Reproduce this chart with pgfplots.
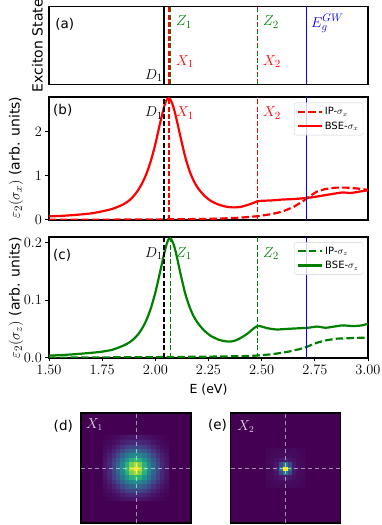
\documentclass[border=0pt]{standalone}
\usepackage{pgfplots}
\pgfplotsset{compat=1.18}
\usepackage{fontspec}
\setmainfont{DejaVu Sans}

\definecolor{mred}{HTML}{FF0000}
\definecolor{mgreen}{HTML}{008000}
\definecolor{mblue}{HTML}{0000FF}
\definecolor{vir0}{HTML}{440154}

\tikzset{
  lab/.style={inner sep=0pt, font=\fontsize{15}{17}\selectfont},
  plab/.style={inner sep=0pt, anchor=west, font=\fontsize{13.5}{16}\selectfont},
  cross/.style={white, opacity=0.55, line width=1pt, dash pattern=on 4pt off 3pt},
  vline/.style={line width=1.6pt},
  vdash/.style={line width=1.6pt, dash pattern=on 5pt off 2.2pt},
  curve/.style={line width=2.2pt, smooth, tension=0.45},
  ipcurve/.style={line width=2.2pt, dash pattern=on 7.5pt off 3.2pt},
}

\pgfplotsset{
  every tick label/.append style={font=\fontsize{15}{17}\selectfont},
  panel/.style={
    scale only axis, width=319pt,
    xmin=1.5, xmax=3.0,
    axis line style={line width=1.8pt},
    tick style={black, line width=0.9pt},
    tick align=outside, major tick length=3.5pt,
    tick pos=left,
  },
  leg/.style={
    legend style={at={(0.985,0.955)}, anchor=north east,
      draw=black!18, rounded corners=2pt, fill=white, fill opacity=0.8,
      text opacity=1, inner sep=2.5pt, row sep=1.5pt,
      font=\fontsize{10}{12}\selectfont},
    legend cell align=left,
    legend image code/.code={\draw[##1] (0pt,0pt) -- (24pt,0pt);},
  },
  heat/.style={
    scale only axis, width=110pt, height=110pt,
    xmin=-12.5, xmax=12.5, ymin=-12.5, ymax=12.5,
    xtick=\empty, ytick=\empty,
    axis line style={line width=1.3pt},
    axis background/.style={fill=vir0},
    colormap/viridis, point meta min=0, point meta max=1,
  },
}

\begin{document}
\begin{tikzpicture}
\useasboundingbox (0pt,0pt) rectangle (382pt,525pt);

% (a) exciton states
\begin{axis}[panel, at={(49pt,440.5pt)}, anchor=south west, height=78pt,
  ymin=0, ymax=1, xtick=\empty, ytick=\empty]
\addplot[vline, black, forget plot] coordinates {(2.04,0) (2.04,1)};
\addplot[vdash, mred, forget plot] coordinates {(2.063,0) (2.063,1)};
\addplot[vdash, mgreen, forget plot] coordinates {(2.072,0) (2.072,1)};
\addplot[vdash, mred, forget plot] coordinates {(2.481,0) (2.481,1)};
\addplot[vline, mgreen, dash pattern=on 3pt off 4.2pt, forget plot] coordinates {(2.481,0) (2.481,1)};
\addplot[vline, mblue, forget plot] coordinates {(2.71,0) (2.71,1)};
\node[plab] at (rel axis cs:0.019,0.776) {(a)};
\node[lab, anchor=east] at (axis cs:2.036,0.11) {$D_1$};
\node[lab, anchor=west, text=mgreen] at (axis cs:2.097,0.80) {$Z_1$};
\node[lab, anchor=west, text=mred] at (axis cs:2.097,0.29) {$X_1$};
\node[lab, anchor=west, text=mgreen] at (axis cs:2.506,0.80) {$Z_2$};
\node[lab, anchor=west, text=mred] at (axis cs:2.506,0.29) {$X_2$};
\node[lab, anchor=west, text=mblue] at (axis cs:2.732,0.78) {$E_g^{GW}$};
\end{axis}

% (b) sigma_x
\begin{axis}[panel, leg, at={(49pt,305.3pt)}, anchor=south west, height=122.5pt,
  ymin=0, ymax=2.79, xtick=\empty, ytick={0,1,2}]
\addplot[ipcurve, mred] coordinates {
  (1.50,0.000) (1.80,0.002) (2.00,0.005) (2.20,0.015) (2.30,0.025)
  (2.40,0.045) (2.48,0.080) (2.55,0.130) (2.60,0.190) (2.65,0.290)
  (2.70,0.440) (2.73,0.550) (2.76,0.640) (2.80,0.700) (2.85,0.730)
  (2.90,0.730) (2.95,0.710) (3.00,0.680)
};
\addlegendentry{IP-$\sigma_x$}
\addplot[curve, mred] coordinates {
  (1.50,0.075) (1.55,0.085) (1.60,0.100) (1.65,0.120) (1.70,0.145)
  (1.75,0.190) (1.80,0.250) (1.85,0.350) (1.88,0.450) (1.90,0.550)
  (1.92,0.680) (1.94,0.850) (1.96,1.070) (1.98,1.360) (2.00,1.720)
  (2.02,2.150) (2.04,2.550) (2.05,2.700) (2.06,2.760) (2.07,2.740)
  (2.08,2.640) (2.09,2.480) (2.10,2.280) (2.12,1.850) (2.14,1.440)
  (2.16,1.120) (2.18,0.890) (2.20,0.720) (2.23,0.550) (2.26,0.430)
  (2.30,0.340) (2.34,0.290) (2.37,0.280) (2.40,0.290) (2.43,0.330)
  (2.46,0.380) (2.48,0.420) (2.50,0.430) (2.55,0.440) (2.60,0.460)
  (2.65,0.470) (2.70,0.490) (2.75,0.520) (2.80,0.560) (2.85,0.600)
  (2.88,0.620) (2.92,0.610) (2.96,0.640) (3.00,0.670)
};
\addlegendentry{BSE-$\sigma_x$}
\addplot[vdash, black, forget plot] coordinates {(2.04,0) (2.04,2.79)};
\addplot[vdash, mred, forget plot] coordinates {(2.063,0) (2.063,2.79)};
\addplot[vdash, mred, forget plot] coordinates {(2.481,0) (2.481,2.79)};
\addplot[vline, mblue, forget plot] coordinates {(2.71,0) (2.71,2.79)};
\node[plab] at (rel axis cs:0.0125,0.895) {(b)};
\node[lab, anchor=east] at (axis cs:2.036,2.43) {$D_1$};
\node[lab, anchor=west, text=mred] at (axis cs:2.097,2.43) {$X_1$};
\node[lab, anchor=west, text=mred] at (axis cs:2.506,2.43) {$X_2$};
\end{axis}

% (c) sigma_z
\begin{axis}[panel, leg, at={(49pt,167.3pt)}, anchor=south west, height=121pt,
  ymin=0, ymax=0.21, xtick={1.5,1.75,2,2.25,2.5,2.75,3}, ytick={0,0.1,0.2},
  scaled y ticks=false,
  xticklabel style={/pgf/number format/.cd, fixed, fixed zerofill, precision=2},
  yticklabel style={/pgf/number format/.cd, fixed, fixed zerofill, precision=1}]
\addplot[ipcurve, mgreen] coordinates {
  (1.50,0.000) (2.00,0.001) (2.30,0.002) (2.45,0.003) (2.55,0.006)
  (2.62,0.010) (2.68,0.015) (2.72,0.020) (2.76,0.026) (2.80,0.030)
  (2.85,0.033) (2.92,0.034) (3.00,0.035)
};
\addlegendentry{IP-$\sigma_z$}
\addplot[curve, mgreen] coordinates {
  (1.50,0.0035) (1.60,0.0055) (1.70,0.0085) (1.75,0.0105) (1.80,0.014)
  (1.85,0.021) (1.88,0.027) (1.90,0.033) (1.92,0.041) (1.94,0.052)
  (1.96,0.067) (1.98,0.087) (2.00,0.113) (2.02,0.145) (2.04,0.178)
  (2.05,0.193) (2.06,0.204) (2.07,0.207) (2.08,0.202) (2.09,0.192)
  (2.10,0.177) (2.12,0.143) (2.14,0.112) (2.16,0.089) (2.18,0.072)
  (2.20,0.060) (2.23,0.047) (2.26,0.038) (2.30,0.031) (2.34,0.028)
  (2.37,0.029) (2.40,0.034) (2.43,0.041) (2.46,0.050) (2.48,0.055)
  (2.50,0.054) (2.53,0.051) (2.57,0.049) (2.62,0.050) (2.67,0.051)
  (2.72,0.052) (2.76,0.054) (2.80,0.052) (2.84,0.054) (2.88,0.056)
  (2.93,0.055) (2.97,0.056) (3.00,0.059)
};
\addlegendentry{BSE-$\sigma_z$}
\addplot[vdash, black, forget plot] coordinates {(2.04,0) (2.04,0.21)};
\addplot[vdash, mgreen, forget plot] coordinates {(2.072,0) (2.072,0.21)};
\addplot[vdash, mgreen, forget plot] coordinates {(2.481,0) (2.481,0.21)};
\addplot[vline, mblue, forget plot] coordinates {(2.71,0) (2.71,0.21)};
\node[plab] at (rel axis cs:0.0125,0.85) {(c)};
\node[lab, anchor=east] at (axis cs:2.036,0.181) {$D_1$};
\node[lab, anchor=west, text=mgreen] at (axis cs:2.097,0.181) {$Z_1$};
\node[lab, anchor=west, text=mgreen] at (axis cs:2.506,0.181) {$Z_2$};
\end{axis}

% (d) X1 wavefunction
\begin{axis}[heat, at={(81pt,2pt)}, anchor=south west]
\addplot[matrix plot*, mesh/cols=15, point meta=explicit] table[row sep=\\, meta=c] {
x y c\\
-7 -7 0.005\\ -6 -7 0.010\\ -5 -7 0.018\\ -4 -7 0.028\\ -3 -7 0.040\\ -2 -7 0.050\\ -1 -7 0.058\\ 0 -7 0.060\\ 1 -7 0.058\\ 2 -7 0.050\\ 3 -7 0.040\\ 4 -7 0.028\\ 5 -7 0.018\\ 6 -7 0.010\\ 7 -7 0.005\\
-7 -6 0.010\\ -6 -6 0.020\\ -5 -6 0.035\\ -4 -6 0.052\\ -3 -6 0.080\\ -2 -6 0.100\\ -1 -6 0.115\\ 0 -6 0.120\\ 1 -6 0.115\\ 2 -6 0.100\\ 3 -6 0.080\\ 4 -6 0.052\\ 5 -6 0.035\\ 6 -6 0.020\\ 7 -6 0.010\\
-7 -5 0.018\\ -6 -5 0.035\\ -5 -5 0.058\\ -4 -5 0.095\\ -3 -5 0.140\\ -2 -5 0.180\\ -1 -5 0.210\\ 0 -5 0.220\\ 1 -5 0.210\\ 2 -5 0.180\\ 3 -5 0.140\\ 4 -5 0.095\\ 5 -5 0.058\\ 6 -5 0.035\\ 7 -5 0.018\\
-7 -4 0.028\\ -6 -4 0.052\\ -5 -4 0.095\\ -4 -4 0.150\\ -3 -4 0.220\\ -2 -4 0.280\\ -1 -4 0.320\\ 0 -4 0.340\\ 1 -4 0.320\\ 2 -4 0.280\\ 3 -4 0.220\\ 4 -4 0.150\\ 5 -4 0.095\\ 6 -4 0.052\\ 7 -4 0.028\\
-7 -3 0.040\\ -6 -3 0.080\\ -5 -3 0.140\\ -4 -3 0.220\\ -3 -3 0.310\\ -2 -3 0.400\\ -1 -3 0.460\\ 0 -3 0.490\\ 1 -3 0.460\\ 2 -3 0.400\\ 3 -3 0.310\\ 4 -3 0.220\\ 5 -3 0.140\\ 6 -3 0.080\\ 7 -3 0.040\\
-7 -2 0.050\\ -6 -2 0.100\\ -5 -2 0.180\\ -4 -2 0.280\\ -3 -2 0.400\\ -2 -2 0.520\\ -1 -2 0.630\\ 0 -2 0.680\\ 1 -2 0.630\\ 2 -2 0.520\\ 3 -2 0.400\\ 4 -2 0.280\\ 5 -2 0.180\\ 6 -2 0.100\\ 7 -2 0.050\\
-7 -1 0.058\\ -6 -1 0.115\\ -5 -1 0.210\\ -4 -1 0.320\\ -3 -1 0.460\\ -2 -1 0.630\\ -1 -1 0.800\\ 0 -1 0.880\\ 1 -1 0.800\\ 2 -1 0.630\\ 3 -1 0.460\\ 4 -1 0.320\\ 5 -1 0.210\\ 6 -1 0.115\\ 7 -1 0.058\\
-7 0 0.060\\ -6 0 0.120\\ -5 0 0.220\\ -4 0 0.340\\ -3 0 0.490\\ -2 0 0.680\\ -1 0 0.880\\ 0 0 1.000\\ 1 0 0.880\\ 2 0 0.680\\ 3 0 0.490\\ 4 0 0.340\\ 5 0 0.220\\ 6 0 0.120\\ 7 0 0.060\\
-7 1 0.058\\ -6 1 0.115\\ -5 1 0.210\\ -4 1 0.320\\ -3 1 0.460\\ -2 1 0.630\\ -1 1 0.800\\ 0 1 0.880\\ 1 1 0.800\\ 2 1 0.630\\ 3 1 0.460\\ 4 1 0.320\\ 5 1 0.210\\ 6 1 0.115\\ 7 1 0.058\\
-7 2 0.050\\ -6 2 0.100\\ -5 2 0.180\\ -4 2 0.280\\ -3 2 0.400\\ -2 2 0.520\\ -1 2 0.630\\ 0 2 0.680\\ 1 2 0.630\\ 2 2 0.520\\ 3 2 0.400\\ 4 2 0.280\\ 5 2 0.180\\ 6 2 0.100\\ 7 2 0.050\\
-7 3 0.040\\ -6 3 0.080\\ -5 3 0.140\\ -4 3 0.220\\ -3 3 0.310\\ -2 3 0.400\\ -1 3 0.460\\ 0 3 0.490\\ 1 3 0.460\\ 2 3 0.400\\ 3 3 0.310\\ 4 3 0.220\\ 5 3 0.140\\ 6 3 0.080\\ 7 3 0.040\\
-7 4 0.028\\ -6 4 0.052\\ -5 4 0.095\\ -4 4 0.150\\ -3 4 0.220\\ -2 4 0.280\\ -1 4 0.320\\ 0 4 0.340\\ 1 4 0.320\\ 2 4 0.280\\ 3 4 0.220\\ 4 4 0.150\\ 5 4 0.095\\ 6 4 0.052\\ 7 4 0.028\\
-7 5 0.018\\ -6 5 0.035\\ -5 5 0.058\\ -4 5 0.095\\ -3 5 0.140\\ -2 5 0.180\\ -1 5 0.210\\ 0 5 0.220\\ 1 5 0.210\\ 2 5 0.180\\ 3 5 0.140\\ 4 5 0.095\\ 5 5 0.058\\ 6 5 0.035\\ 7 5 0.018\\
-7 6 0.010\\ -6 6 0.020\\ -5 6 0.035\\ -4 6 0.052\\ -3 6 0.080\\ -2 6 0.100\\ -1 6 0.115\\ 0 6 0.120\\ 1 6 0.115\\ 2 6 0.100\\ 3 6 0.080\\ 4 6 0.052\\ 5 6 0.035\\ 6 6 0.020\\ 7 6 0.010\\
-7 7 0.005\\ -6 7 0.010\\ -5 7 0.018\\ -4 7 0.028\\ -3 7 0.040\\ -2 7 0.050\\ -1 7 0.058\\ 0 7 0.060\\ 1 7 0.058\\ 2 7 0.050\\ 3 7 0.040\\ 4 7 0.028\\ 5 7 0.018\\ 6 7 0.010\\ 7 7 0.005\\
};
\addplot[cross] coordinates {(0,-12.5) (0,12.5)};
\addplot[cross] coordinates {(-12.5,0) (12.5,0)};
\node[anchor=west, inner sep=0pt, text=white, text opacity=0.85,
  font=\fontsize{13.5}{15}\selectfont] at (axis cs:-11.4,9.8) {$X_1$};
\end{axis}

% (e) X2 wavefunction
\begin{axis}[heat, at={(230.5pt,2pt)}, anchor=south west]
\addplot[matrix plot*, mesh/cols=9, point meta=explicit] table[row sep=\\, meta=c] {
x y c\\
-4 -4 0.010\\ -3 -4 0.014\\ -2 -4 0.018\\ -1 -4 0.020\\ 0 -4 0.021\\ 1 -4 0.020\\ 2 -4 0.018\\ 3 -4 0.014\\ 4 -4 0.010\\
-4 -3 0.014\\ -3 -3 0.020\\ -2 -3 0.025\\ -1 -3 0.030\\ 0 -3 0.032\\ 1 -3 0.030\\ 2 -3 0.025\\ 3 -3 0.020\\ 4 -3 0.014\\
-4 -2 0.018\\ -3 -2 0.025\\ -2 -2 0.040\\ -1 -2 0.060\\ 0 -2 0.080\\ 1 -2 0.060\\ 2 -2 0.040\\ 3 -2 0.025\\ 4 -2 0.018\\
-4 -1 0.020\\ -3 -1 0.030\\ -2 -1 0.060\\ -1 -1 0.220\\ 0 -1 0.400\\ 1 -1 0.220\\ 2 -1 0.060\\ 3 -1 0.030\\ 4 -1 0.020\\
-4 0 0.021\\ -3 0 0.032\\ -2 0 0.080\\ -1 0 0.400\\ 0 0 1.000\\ 1 0 0.400\\ 2 0 0.080\\ 3 0 0.032\\ 4 0 0.021\\
-4 1 0.020\\ -3 1 0.030\\ -2 1 0.060\\ -1 1 0.220\\ 0 1 0.400\\ 1 1 0.220\\ 2 1 0.060\\ 3 1 0.030\\ 4 1 0.020\\
-4 2 0.018\\ -3 2 0.025\\ -2 2 0.040\\ -1 2 0.060\\ 0 2 0.080\\ 1 2 0.060\\ 2 2 0.040\\ 3 2 0.025\\ 4 2 0.018\\
-4 3 0.014\\ -3 3 0.020\\ -2 3 0.025\\ -1 3 0.030\\ 0 3 0.032\\ 1 3 0.030\\ 2 3 0.025\\ 3 3 0.020\\ 4 3 0.014\\
-4 4 0.010\\ -3 4 0.014\\ -2 4 0.018\\ -1 4 0.020\\ 0 4 0.021\\ 1 4 0.020\\ 2 4 0.018\\ 3 4 0.014\\ 4 4 0.010\\
};
\addplot[cross] coordinates {(0,-12.5) (0,12.5)};
\addplot[cross] coordinates {(-12.5,0) (12.5,0)};
\node[anchor=west, inner sep=0pt, text=white, text opacity=0.85,
  font=\fontsize{13.5}{15}\selectfont] at (axis cs:-11.0,9.5) {$X_2$};
\end{axis}

% labels outside the axes
\node[rotate=90, font=\fontsize{14}{16}\selectfont] at (37.5pt,483pt) {Exciton States};
\node[rotate=90, font=\fontsize{14}{16}\selectfont] at (16pt,367.5pt)
  {{\fontsize{15}{17}\selectfont$\varepsilon_2(\sigma_x)$} (arb. units)};
\node[rotate=90, font=\fontsize{14}{16}\selectfont] at (16pt,227pt)
  {{\fontsize{15}{17}\selectfont$\varepsilon_2(\sigma_z)$} (arb. units)};
\node[font=\fontsize{12.5}{15}\selectfont] at (208.5pt,135pt) {E (eV)};
\node[font=\fontsize{13.5}{15}\selectfont] at (63.3pt,98.3pt) {(d)};
\node[font=\fontsize{13.5}{15}\selectfont] at (217.5pt,100pt) {(e)};
\end{tikzpicture}
\end{document}
